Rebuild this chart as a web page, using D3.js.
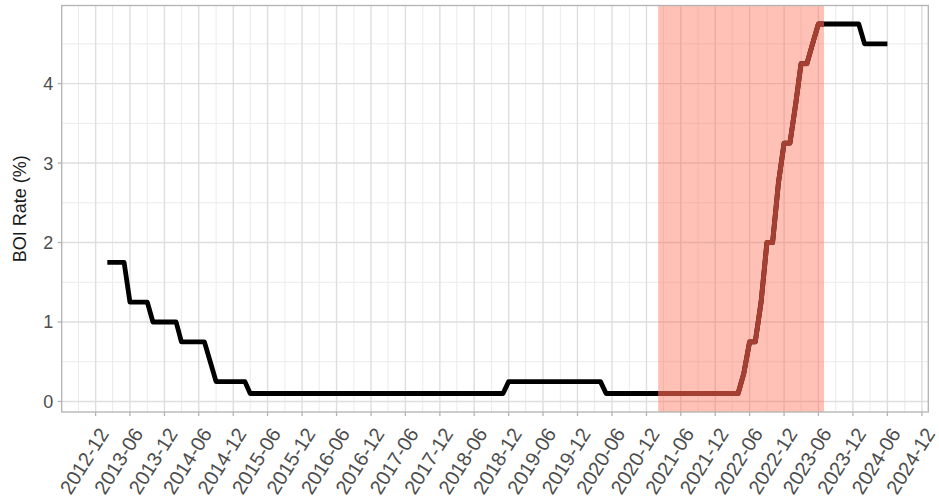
<!DOCTYPE html>
<html>
<head>
<meta charset="utf-8">
<script src="https://cdn.jsdelivr.net/npm/d3@7"></script>
<style>
  body { margin: 0; background: #fff; }
  svg text { font-family: "Liberation Sans", Arial, sans-serif; }
</style>
</head>
<body>
<div class="content"></div>
<script>
// monthly Bank of Israel rate (%), first value is Feb 2013
const firstMonth = "2013-02";
const rates = [
  /* 2013 */ 1.75, 1.75, 1.75, 1.75, 1.25, 1.25, 1.25, 1.25, 1.00, 1.00, 1.00,
  /* 2014 */ 1.00, 1.00, 0.75, 0.75, 0.75, 0.75, 0.75, 0.50, 0.25, 0.25, 0.25, 0.25,
  /* 2015 */ 0.25, 0.25, 0.10, 0.10, 0.10, 0.10, 0.10, 0.10, 0.10, 0.10, 0.10, 0.10,
  /* 2016 */ 0.10, 0.10, 0.10, 0.10, 0.10, 0.10, 0.10, 0.10, 0.10, 0.10, 0.10, 0.10,
  /* 2017 */ 0.10, 0.10, 0.10, 0.10, 0.10, 0.10, 0.10, 0.10, 0.10, 0.10, 0.10, 0.10,
  /* 2018 */ 0.10, 0.10, 0.10, 0.10, 0.10, 0.10, 0.10, 0.10, 0.10, 0.10, 0.10, 0.25,
  /* 2019 */ 0.25, 0.25, 0.25, 0.25, 0.25, 0.25, 0.25, 0.25, 0.25, 0.25, 0.25, 0.25,
  /* 2020 */ 0.25, 0.25, 0.25, 0.25, 0.10, 0.10, 0.10, 0.10, 0.10, 0.10, 0.10, 0.10,
  /* 2021 */ 0.10, 0.10, 0.10, 0.10, 0.10, 0.10, 0.10, 0.10, 0.10, 0.10, 0.10, 0.10,
  /* 2022 */ 0.10, 0.10, 0.10, 0.10, 0.35, 0.75, 0.75, 1.25, 2.00, 2.00, 2.75, 3.25,
  /* 2023 */ 3.25, 3.75, 4.25, 4.25, 4.50, 4.75, 4.75, 4.75, 4.75, 4.75, 4.75, 4.75,
  /* 2024 */ 4.75, 4.50, 4.50, 4.50, 4.50, 4.50
];
// shaded tightening period
const shadeStart = "2021-02";
const shadeEnd = "2023-07";

const xTickLabels = ["2012-12", "2013-06", "2013-12", "2014-06", "2014-12", "2015-06", "2015-12",
  "2016-06", "2016-12", "2017-06", "2017-12", "2018-06", "2018-12", "2019-06", "2019-12",
  "2020-06", "2020-12", "2021-06", "2021-12", "2022-06", "2022-12", "2023-06", "2023-12",
  "2024-06", "2024-12"];
const yTicks = [0, 1, 2, 3, 4];
const yMinor = [0.5, 1.5, 2.5, 3.5, 4.5];
const yTitle = "BOI Rate (%)";

const W = 939, H = 503;
const panel = { left: 61.7, right: 928.3, top: 5.5, bottom: 412 };

const parseMonth = d3.timeParse("%Y-%m");
const fmtMonth = d3.timeFormat("%Y-%m");
const start = parseMonth(firstMonth);
const data = rates.map((r, i) => ({ date: d3.timeMonth.offset(start, i), rate: r }));

const svg = d3.select(".content").append("svg")
  .attr("width", W).attr("height", H);

const x = d3.scaleTime()
  .domain([new Date(2012, 5, 4), new Date(2025, 0, 4)])
  .range([panel.left, panel.right]);

const y = d3.scaleLinear()
  .domain([-0.1325, 4.9825])
  .range([panel.bottom, panel.top]);

const xMajor = xTickLabels.map(parseMonth);
const xMinor = xMajor.map(d => d3.timeMonth.offset(d, -3));

// grid
const grid = svg.append("g");
grid.selectAll(".ymin").data(yMinor).enter().append("line")
  .attr("x1", panel.left).attr("x2", panel.right)
  .attr("y1", d => y(d)).attr("y2", d => y(d))
  .attr("stroke", "#ebebeb").attr("stroke-width", 1);
grid.selectAll(".xmin").data(xMinor).enter().append("line")
  .attr("x1", d => x(d)).attr("x2", d => x(d))
  .attr("y1", panel.top).attr("y2", panel.bottom)
  .attr("stroke", "#ebebeb").attr("stroke-width", 1);
grid.selectAll(".ymaj").data(yTicks).enter().append("line")
  .attr("x1", panel.left).attr("x2", panel.right)
  .attr("y1", d => y(d)).attr("y2", d => y(d))
  .attr("stroke", "#dedede").attr("stroke-width", 1.4);
grid.selectAll(".xmaj").data(xMajor).enter().append("line")
  .attr("x1", d => x(d)).attr("x2", d => x(d))
  .attr("y1", panel.top).attr("y2", panel.bottom)
  .attr("stroke", "#dedede").attr("stroke-width", 1.4);

// shaded period
const s0 = x(parseMonth(shadeStart)), s1 = x(parseMonth(shadeEnd));
svg.append("rect")
  .attr("x", s0).attr("y", panel.top)
  .attr("width", s1 - s0).attr("height", panel.bottom - panel.top)
  .attr("fill", "#ff6347").attr("fill-opacity", 0.4);

svg.append("clipPath").attr("id", "shadeClip")
  .append("rect")
  .attr("x", s0).attr("y", panel.top)
  .attr("width", s1 - s0).attr("height", panel.bottom - panel.top);

const line = d3.line().x(d => x(d.date)).y(d => y(d.rate));

svg.append("path")
  .datum(data)
  .attr("d", line)
  .attr("fill", "none")
  .attr("stroke", "#000")
  .attr("stroke-width", 4.8)
  .attr("stroke-linejoin", "round");

svg.append("path")
  .datum(data)
  .attr("d", line)
  .attr("clip-path", "url(#shadeClip)")
  .attr("fill", "none")
  .attr("stroke", "#a43f31")
  .attr("stroke-width", 5)
  .attr("stroke-linejoin", "round");

// panel border
svg.append("rect")
  .attr("x", panel.left).attr("y", panel.top)
  .attr("width", panel.right - panel.left).attr("height", panel.bottom - panel.top)
  .attr("fill", "none").attr("stroke", "#b3b3b3").attr("stroke-width", 1.3);

// y axis
const yAxis = svg.append("g");
yAxis.selectAll("line").data(yTicks).enter().append("line")
  .attr("x1", panel.left - 4).attr("x2", panel.left)
  .attr("y1", d => y(d)).attr("y2", d => y(d))
  .attr("stroke", "#b3b3b3").attr("stroke-width", 1.3);
yAxis.selectAll("text").data(yTicks).enter().append("text")
  .attr("x", panel.left - 8.5)
  .attr("y", d => y(d))
  .attr("dy", "0.36em")
  .attr("text-anchor", "end")
  .attr("font-size", 18)
  .attr("fill", "#4d4d4d")
  .text(d => d);

// x axis
const xAxis = svg.append("g");
xAxis.selectAll("line").data(xMajor).enter().append("line")
  .attr("x1", d => x(d)).attr("x2", d => x(d))
  .attr("y1", panel.bottom).attr("y2", panel.bottom + 4)
  .attr("stroke", "#b3b3b3").attr("stroke-width", 1.3);
xAxis.selectAll("text").data(xMajor).enter().append("text")
  .attr("transform", d => `translate(${x(d) + 14},${433.5}) rotate(-58)`)
  .attr("text-anchor", "end")
  .attr("font-size", 20)
  .attr("fill", "#4d4d4d")
  .text(d => fmtMonth(d));

svg.append("text")
  .attr("transform", `translate(26,${(panel.top + panel.bottom) / 2}) rotate(-90)`)
  .attr("text-anchor", "middle")
  .attr("font-size", 18)
  .attr("fill", "#1a1a1a")
  .text(yTitle);
</script>
</body>
</html>
